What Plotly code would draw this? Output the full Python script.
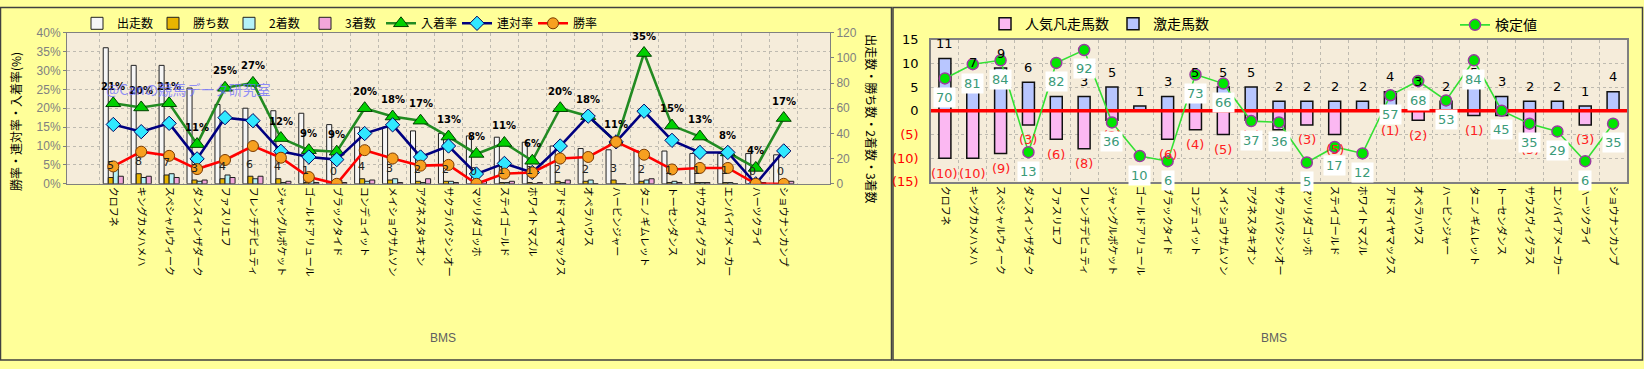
import plotly.graph_objects as go

W, H = 1644, 369

bms = ["クロフネ", "キングカメハメハ", "スペシャルウィーク", "ダンスインザダーク", "ファスリエフ",
       "フレンチデピュティ", "ジャングルポケット", "ゴールドアリュール", "ブラックタイド", "コンデュイット",
       "メイショウサムソン", "アグネスタキオン", "サクラバクシンオー", "マツリダゴッホ", "ステイゴールド",
       "ホワイトマズル", "アドマイヤマックス", "オペラハウス", "ハービンジャー", "タニノギムレット",
       "トーセンダンス", "サウスヴィグラス", "エンパイアメーカー", "ハーツクライ", "ショウナンカンプ"]

# left chart (counts on right axis, rates in % on left axis)
runs = [108, 94, 94, 76, 63, 60, 58, 56, 47, 45, 45, 42, 40, 38, 37, 33, 30, 28, 27, 26, 26, 24, 24, 24, 23]
wins = [5, 8, 7, 3, 4, 6, 4, 1, 0, 4, 3, 2, 2, 0, 1, 1, 2, 2, 3, 2, 1, 1, 1, 0, 0]
seconds = [12, 5, 8, 2, 7, 4, 1, 3, 3, 2, 4, 1, 2, 1, 1, 0, 1, 3, 0, 3, 2, 1, 1, 0, 2]
thirds = [6, 6, 5, 3, 5, 6, 2, 1, 1, 3, 1, 4, 1, 2, 2, 1, 3, 0, 0, 4, 1, 1, 0, 1, 2]
place_rate = [21.3, 20.2, 21.3, 10.5, 25.4, 26.7, 12.1, 8.9, 8.5, 20.0, 17.8, 16.7, 12.5, 7.9, 10.8,
              6.1, 20.0, 17.9, 11.1, 34.6, 15.4, 12.5, 8.3, 4.2, 17.4]
quinella_rate = [15.7, 13.8, 16.0, 6.6, 17.5, 16.7, 8.6, 7.1, 6.4, 13.3, 15.6, 7.1, 10.0, 2.6, 5.4,
                 3.0, 10.0, 17.9, 11.1, 19.2, 11.5, 8.3, 8.3, 0.0, 8.7]
win_rate = [4.6, 8.5, 7.4, 3.9, 6.3, 10.0, 6.9, 1.8, 0.0, 8.9, 6.7, 4.8, 5.0, 0.0, 2.7,
            3.0, 6.7, 7.1, 11.1, 7.7, 3.8, 4.2, 4.2, 0.0, 0.0]

# right chart
gekisou = [11, 7, 9, 6, 3, 3, 5, 1, 3, 5, 5, 5, 2, 2, 2, 2, 4, 3, 2, 5, 3, 2, 2, 1, 4]
bonsou = [-10, -10, -9, -3, -6, -8, -2, 0, -6, -4, -5, -2, -4, -3, -5, 0, -1, -2, 0, -1, -1, -5, 0, -3, 0]
kentei = [70, 81, 84, 13, 82, 92, 36, 10, 6, 73, 66, 37, 36, 5, 17, 12, 57, 68, 53, 84, 45, 35, 29, 6, 35]
r_ticks = [-15, -10, -5, 0, 5, 10, 15]

idx = list(range(len(bms)))

def px_x(p):
    return p / W

def px_y(p):
    return 1 - p / H

JP = "Noto Sans CJK JP, sans-serif"
GRID = "#BEBAB0"

fig = go.Figure()

# ---------- left chart bars (primary y = right side counts) ----------
bar_specs = [("出走数", runs, "#F6F6F6"), ("勝ち数", wins, "#E8B400"),
             ("2着数", seconds, "#B4F2F8"), ("3着数", thirds, "#F2A6DA")]
for name, vals, col in bar_specs:
    fig.add_trace(go.Bar(x=bms, y=vals, name=name, xaxis="x", yaxis="y",
                         marker=dict(color=col, line=dict(color="#202020", width=1)),
                         legend="legend"))

line_specs = [("入着率", place_rate, "#228B22", "triangle-up", "#00D000", "#004000", 13),
              ("連対率", quinella_rate, "#000080", "diamond", "#30E8FF", "#000060", 11),
              ("勝率", win_rate, "#FF0000", "circle", "#F7A020", "#7A3A00", 11)]
for name, vals, lc, sym, mc, ml, ms in line_specs:
    fig.add_trace(go.Scatter(x=bms, y=vals, name=name, xaxis="x", yaxis="y2",
                             mode="lines+markers",
                             line=dict(color=lc, width=2.6),
                             marker=dict(symbol=sym, size=ms, color=mc, line=dict(color=ml, width=1)),
                             legend="legend"))

# ---------- right chart ----------
fig.add_trace(go.Bar(x=idx, y=bonsou, name="人気凡走馬数", xaxis="x2", yaxis="y3",
                     width=0.43, offset=-0.215,
                     marker=dict(color="#FBB8F2", line=dict(color="#101010", width=1.5)),
                     legend="legend2"))
fig.add_trace(go.Bar(x=idx, y=gekisou, name="激走馬数", xaxis="x2", yaxis="y3",
                     width=0.43, offset=-0.215,
                     marker=dict(color="#B8C6FF", line=dict(color="#101010", width=1.5)),
                     legend="legend2"))
fig.add_trace(go.Scatter(x=[-0.5, len(bms) - 0.5], y=[0, 0], mode="lines", xaxis="x2", yaxis="y3",
                         line=dict(color="#FF0000", width=3.5), showlegend=False, hoverinfo="skip"))
fig.add_trace(go.Scatter(x=idx, y=kentei, name="検定値", xaxis="x2", yaxis="y4",
                         mode="lines+markers",
                         line=dict(color="#33E033", width=1.6),
                         marker=dict(size=11, color="#00E600", line=dict(color="#9A3AA0", width=1.5)),
                         legend="legend3"))

ann = []
# percentage labels above 入着率
for c, v in zip(bms, place_rate):
    ann.append(dict(x=c, y=v, xref="x", yref="y2", text=f"<b>{int(v + 0.5)}%</b>", showarrow=False,
                    yshift=17, font=dict(size=10, color="#000000", family="DejaVu Sans")))
# win count labels
for c, v in zip(bms, wins):
    ann.append(dict(x=c, y=v, xref="x", yref="y", text=str(v), showarrow=False,
                    yshift=12, xshift=-3, font=dict(size=11, color="#202020", family="DejaVu Sans")))
# right bar labels
for i, v in zip(idx, gekisou):
    if v:
        ann.append(dict(x=i, y=v, xref="x2", yref="y3", text=str(v), showarrow=False, yshift=15,
                        font=dict(size=13, color="#000000", family="DejaVu Sans")))
for i, v in zip(idx, bonsou):
    if v:
        ann.append(dict(x=i, y=v, xref="x2", yref="y3", text=f"({-v})", showarrow=False, yshift=-15,
                        font=dict(size=13, color="#FF2020", family="DejaVu Sans")))
for i, v in zip(idx, kentei):
    ann.append(dict(x=i, y=v, xref="x2", yref="y4", text=str(v), showarrow=False, yshift=-19,
                    bgcolor="#FFFFFF", borderpad=2,
                    font=dict(size=13, color="#3A9A78", family="DejaVu Sans")))

# titles / watermark
def paper_text(xp, yp, text, size, color, family=JP, angle=0):
    return dict(x=px_x(xp), y=px_y(yp), xref="paper", yref="paper", text=text, textangle=angle,
                xanchor="center", yanchor="middle", showarrow=False,
                font=dict(size=size, color=color, family=family))

ann += [
    paper_text(15, 120, "勝率・連対率・入着率(%)", 12, "#000000", angle=-90),
    paper_text(872, 116, "出走数・勝ち数・2着数・3着数", 12, "#000000", angle=90),
    paper_text(188, 85, "@Canの競馬データ研究室", 14, "rgba(110,110,255,0.75)"),
    paper_text(443, 345, "BMS", 12, "#606060", "Liberation Sans"),
    paper_text(1274, 345, "BMS", 12, "#606060", "Liberation Sans"),
]

shapes = [
    dict(type="rect", xref="paper", yref="paper", x0=px_x(0.5), x1=px_x(891.5), y0=px_y(368), y1=px_y(0.5),
         line=dict(color="#404040", width=1.5), layer="below"),
    dict(type="rect", xref="paper", yref="paper", x0=px_x(893), x1=px_x(1642.5), y0=px_y(368), y1=px_y(0.5),
         line=dict(color="#404040", width=1.5), layer="below"),
]

r_text = [f"<span style='color:#FF0000'>({-t})</span>" if t < 0 else str(t) for t in r_ticks]

fig.update_layout(
    width=W, height=H, margin=dict(l=0, r=0, t=0, b=0),
    paper_bgcolor="#FFFF99", plot_bgcolor="#F5ECDA",
    font=dict(family=JP, size=12, color="#000000"),
    barmode="group", bargap=0.28, bargroupgap=0,
    annotations=ann, shapes=shapes,
    xaxis=dict(domain=[px_x(67), px_x(830)], anchor="y", type="category", tickson="boundaries",
               showgrid=True, gridcolor=GRID, griddash="dot", tickangle=90,
               tickfont=dict(size=10, color="#000000", family=JP), ticks="",
               showline=True, linecolor="#808080", mirror=True),
    yaxis=dict(domain=[px_y(184.3), px_y(26.7)], anchor="x", side="right", range=[0, 120], dtick=20,
               showgrid=False, zeroline=False, tickfont=dict(size=12, color="#808080", family="Liberation Sans"),
               ticks="outside", ticklen=3, tickcolor="#808080",
               showline=True, linecolor="#808080", mirror=True),
    yaxis2=dict(overlaying="y", anchor="x", side="left", range=[0, 40], dtick=5, ticksuffix="%",
                showgrid=True, gridcolor=GRID, griddash="dot", zeroline=False,
                tickfont=dict(size=12, color="#808080", family="Liberation Sans"),
                ticks="outside", ticklen=3, tickcolor="#808080"),
    xaxis2=dict(domain=[px_x(931), px_x(1627)], anchor="y3", range=[-0.5, len(bms) - 0.5],
                tickvals=idx, ticktext=bms, tickangle=90, showgrid=False, zeroline=False,
                minor=dict(tickvals=[i + 0.5 for i in idx[:-1]], showgrid=True, gridcolor=GRID, griddash="dot"),
                tickfont=dict(size=10, color="#000000", family=JP), ticks="",
                showline=True, linecolor="#808080", mirror=True, linewidth=1.5),
    yaxis3=dict(domain=[px_y(182.3), px_y(34)], anchor="x2", range=[-15, 15], tickvals=r_ticks, ticktext=r_text,
                showgrid=True, gridcolor=GRID, griddash="dot", zeroline=False,
                tickfont=dict(size=13, color="#000000", family="DejaVu Sans"), ticklabelstandoff=8,
                showline=True, linecolor="#808080", mirror=True, linewidth=1.5),
    yaxis4=dict(overlaying="y3", anchor="x2", range=[-10, 100], visible=False),
    legend=dict(orientation="h", x=px_x(77), y=px_y(17), xanchor="left", yanchor="middle",
                bgcolor="rgba(0,0,0,0)", font=dict(size=12, family=JP), itemwidth=30,
                entrywidth=31, traceorder="normal"),
    legend2=dict(orientation="h", x=px_x(985), y=px_y(18), xanchor="left", yanchor="middle",
                 bgcolor="rgba(0,0,0,0)", font=dict(size=14, family=JP), itemwidth=30, entrywidth=83),
    legend3=dict(orientation="h", x=px_x(1455), y=px_y(19), xanchor="left", yanchor="middle",
                 bgcolor="rgba(0,0,0,0)", font=dict(size=14, family=JP), itemwidth=30),
)

fig.write_html("out.html", config={"displayModeBar": False},
               post_script="document.body.style.margin='0';document.body.style.padding='0';")
